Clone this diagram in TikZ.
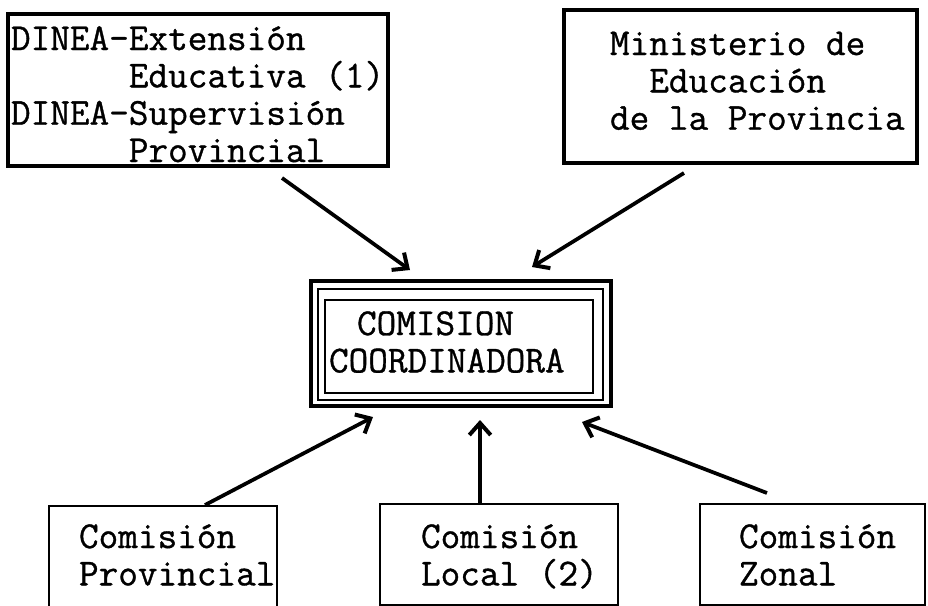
\documentclass[tikz,border=0pt]{standalone}
\usepackage{fontspec}
\newfontfamily\typewr[FakeBold=0.9]{Latin Modern Mono}
\usetikzlibrary{arrows.meta}
\newcommand{\topstrut}{\rule{0pt}{1em}}
\tikzset{
  frame/.style={draw, inner sep=0pt, outer sep=0pt, anchor=north west},
  boxtop/.style={frame, line width=2.8pt},
  boxbot/.style={frame, line width=2.2pt},
  typed/.style={inner sep=0pt, outer sep=0pt, anchor=north west, align=left,
    font=\typewr\fontsize{28.6}{28}\selectfont},
  conn/.style={line width=2.8pt, -{Straight Barb[length=9pt, width=16pt, line width=3pt]}},
}
\begin{document}
\begin{tikzpicture}[x=0.75pt, y=-0.75pt]
\useasboundingbox (0,0) rectangle (928,606);
\fill[white] (0,0) rectangle (928,606);
\clip (0,0) rectangle (928,606);

% boxes
\node[boxtop, minimum width=380*0.75pt, minimum height=152*0.75pt] (dinea) at (8,14) {};
\node[boxtop, minimum width=353*0.75pt, minimum height=153*0.75pt] (minis) at (564,10) {};
\node[frame, line width=1.9pt, minimum width=268*0.75pt, minimum height=93*0.75pt] (coord) at (325,300) {};
\draw[line width=1.2pt] ([shift={(-7,-11)}]coord.north west) rectangle ([shift={(10,7)}]coord.south east);
\draw[line width=2.4pt] ([shift={(-14,-19)}]coord.north west) rectangle ([shift={(18,13)}]coord.south east);
\node[boxbot, minimum width=228*0.75pt, minimum height=112*0.75pt] (prov) at (49,506) {};
\node[boxbot, minimum width=238*0.75pt, minimum height=101*0.75pt] (local) at (380,504) {};
\node[boxbot, minimum width=225*0.75pt, minimum height=101*0.75pt] (zonal) at (700,504) {};

% texts
\node[typed] (dineaT) at (11,11.9) {\topstrut DINEA-Extensión\\\phantom{DINEA-}Educativa (1)\\DINEA-Supervisión\\\phantom{DINEA-}Provincial};
\node[typed] (minisT) at (610,16.9) {\topstrut Ministerio de\\\phantom{Mi}Educación\\de la Provincia};
\node[typed] (coordT) at (329,296.9) {\topstrut\hspace*{21pt}COMISION\\COORDINADORA};
\node[typed] (provT) at (79,509.9) {\topstrut Comisión\\Provincial};
\node[typed] (localT) at (421,509.9) {\topstrut Comisión\\Local (2)};
\node[typed] (zonalT) at (739,509.9) {\topstrut Comisión\\Zonal};

% connectors
\draw[conn] ([shift={(274,12)}]dinea.south west) -- ([shift={(85,-30)}]coord.north west);
\draw[conn] ([shift={(120,10)}]minis.south west) -- ([shift={(-61,-33)}]coord.north east);
\draw[conn] ([shift={(156,-1)}]prov.north west) -- ([shift={(48,24)}]coord.south west);
\draw[conn] ([shift={(100,0)}]local.north west) -- ([shift={(155,27)}]coord.south west);
\draw[conn] ([shift={(67,-11)}]zonal.north west) -- ([shift={(-11,29)}]coord.south east);
\end{tikzpicture}
\end{document}
